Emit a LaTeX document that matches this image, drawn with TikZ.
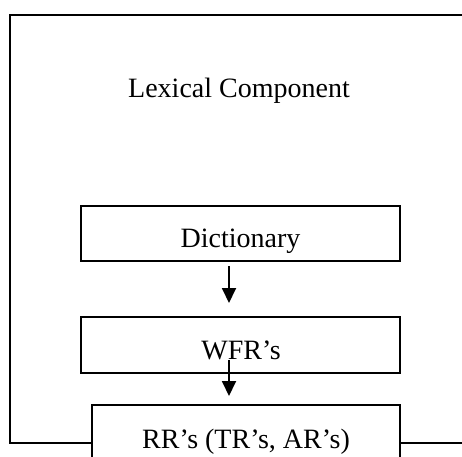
\documentclass[tikz,border=0pt]{standalone}
\usepackage{fontspec}
\setmainfont{Liberation Serif}
\usetikzlibrary{arrows.meta}
\begin{document}
\begin{tikzpicture}[x=1pt,y=-1pt,line width=1.8pt,
  box/.style={draw,rectangle,inner sep=0pt,outer sep=0pt},
  lbl/.style={font=\fontsize{28}{32}\selectfont,inner sep=0pt,anchor=base},
  flow/.style={-{Triangle[length=15pt,width=14pt]},line width=1.8pt}]
\useasboundingbox (0,0) rectangle (462,456);
\fill[white] (0,0) rectangle (462,456);
% boxes
\node[box,minimum width=319pt,minimum height=55pt] (dict) at (240.5,233.5) {};
\node[box,minimum width=319pt,minimum height=56pt] (wfr) at (240.5,345) {};
\node[box,minimum width=308pt,minimum height=70pt] (rr) at (246,440) {};
% labels
\node[lbl] (lex) at (239,97) {Lexical Component};
\node[lbl] (dictlbl) at (240.5,247) {Dictionary};
\node[lbl] (wfrlbl) at (241,359) {WFR’s};
\node[lbl] (rrlbl) at (246,448) {RR’s (TR’s, AR’s)};
% outer frame
\coordinate (tr) at (462,15);
\coordinate (tl) at (10,15);
\coordinate (bl) at (10,443);
\coordinate (br) at (462,443);
\draw (tr) -- (tl) -- (bl) -- (bl -| rr.west);
\draw (rr.east |- br) -- (br);
% arrows
\draw[flow,shorten <=5pt,shorten >=14pt] ([xshift=-11.5pt]dict.south) -- ([xshift=-11.5pt]wfr.north);
\draw[flow,shorten <=-13pt,shorten >=9pt] ([xshift=-11.5pt]wfr.south) -- ([xshift=-17pt]rr.north);
\end{tikzpicture}
\end{document}
